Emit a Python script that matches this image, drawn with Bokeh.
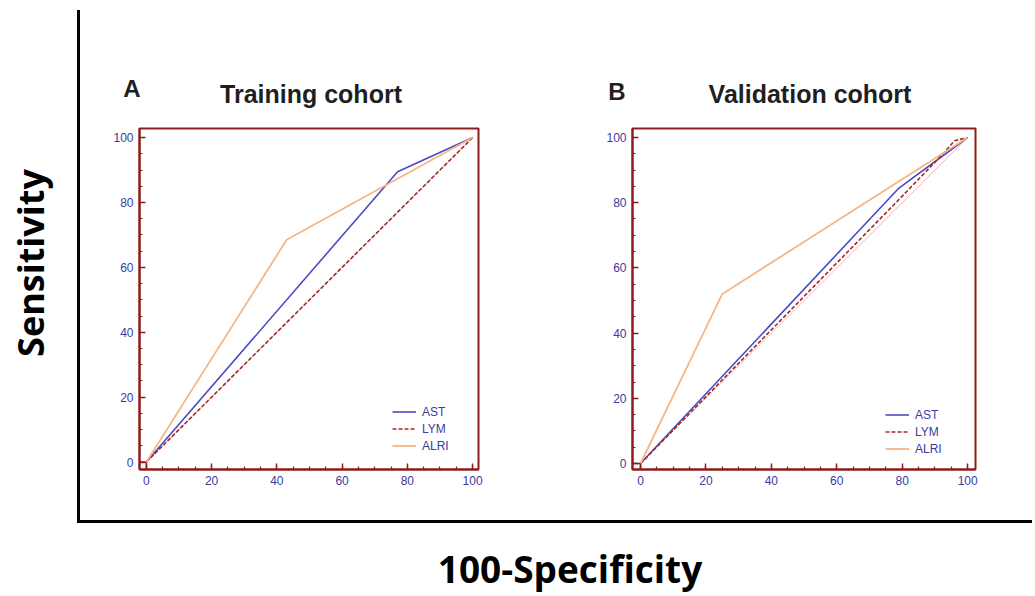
from bokeh.plotting import figure
from bokeh.layouts import row, column
from bokeh.models import Range1d, FixedTicker, Div
from bokeh.embed import file_html
from bokeh.resources import INLINE

# ---------------- data ----------------
tick_values = [0, 20, 40, 60, 80, 100]
minor_tick_values = list(range(0, 101, 5))
series_names = ["AST", "LYM", "ALRI"]
panel_titles = ["Training cohort", "Validation cohort"]
panel_letters = ["A", "B"]
x_axis_title = "100-Specificity"
y_axis_title = "Sensitivity"

train_ast_x = [0, 77, 100]
train_ast_y = [0, 89.5, 100]
train_lym_x = [0, 100]
train_lym_y = [0, 100]
train_alri_x = [0, 43, 100]
train_alri_y = [0, 68.5, 100]

valid_ast_x = [0, 79, 100]
valid_ast_y = [0, 84.5, 100]
valid_lym_x = [0, 60, 80, 92, 96, 100]
valid_lym_y = [0, 61.5, 82, 94.5, 99, 100]
valid_alri_x = [0, 25, 100]
valid_alri_y = [0, 52, 100]

diag_x = [0, 100]
diag_y = [0, 100]

# ---------------- styles ----------------
FRAME = "#8E1C1C"
TICKLBL = "#3A3AA0"
C_AST = "#4B4BC6"
C_LYM = "#A02A2A"
C_ALRI = "#F6B685"
C_DIAG = "#EBB8C0"


def make_panel(width, height, mbl, mbr, mbt, mbb, xr, yr, curves, legend_xy):
    p = figure(width=width, height=height, x_range=Range1d(*xr), y_range=Range1d(*yr),
               output_backend="svg", toolbar_location=None,
               min_border_left=mbl, min_border_right=mbr, min_border_top=mbt,
               min_border_bottom=mbb)
    p.grid.visible = False
    p.outline_line_color = FRAME
    p.outline_line_width = 2
    p.outline_line_alpha = 1
    p.background_fill_color = "white"
    p.border_fill_color = "white"

    for ax in (p.xaxis[0], p.yaxis[0]):
        ax.ticker = FixedTicker(ticks=tick_values, minor_ticks=minor_tick_values)
        ax.axis_line_color = FRAME
        ax.axis_line_width = 2
        ax.major_tick_in = 6
        ax.major_tick_out = 0
        ax.minor_tick_in = 3
        ax.minor_tick_out = 0
        ax.major_tick_line_color = FRAME
        ax.minor_tick_line_color = FRAME
        ax.major_tick_line_width = 1.5
        ax.minor_tick_line_width = 1.2
        ax.major_label_text_color = TICKLBL
        ax.major_label_text_font = "Liberation Sans"
        ax.major_label_text_font_size = "12px"
        ax.major_label_standoff = 6

    # reference diagonal
    p.line(diag_x, diag_y, line_color=C_DIAG, line_width=1)
    # origin box
    p.line([xr[0], 0, 0], [0, 0, yr[0]], line_color=FRAME, line_width=1.5)

    (ax_, ay_), (lx_, ly_), (rx_, ry_) = curves
    p.line(ax_, ay_, line_color=C_AST, line_width=1.6, legend_label=series_names[0])
    p.line(lx_, ly_, line_color=C_LYM, line_width=1.6, line_dash="4 2",
           legend_label=series_names[1])
    p.line(rx_, ry_, line_color=C_ALRI, line_width=1.8, legend_label=series_names[2])

    lg = p.legend[0]
    lg.location = legend_xy
    lg.background_fill_alpha = 0
    lg.border_line_color = None
    lg.label_text_color = TICKLBL
    lg.label_text_font = "Liberation Sans"
    lg.label_text_font_size = "12px"
    lg.glyph_width = 24
    lg.glyph_height = 17
    lg.label_height = 17
    lg.spacing = 0
    lg.padding = 4
    lg.margin = 0
    lg.label_standoff = 6
    return p


# row spans page y 110..520 (height 410); frames at y 128..469
figA = make_panel(475, 410, 59, 77, 18, 51, (-2.1, 101.8), (-2.3, 102.8),
                  ((train_ast_x, train_ast_y), (train_lym_x, train_lym_y),
                   (train_alri_x, train_alri_y)), (253, 15))
figB = make_panel(477, 410, 77, 57, 18, 51, (-2.45, 102.4), (-1.84, 102.76),
                  ((valid_ast_x, valid_ast_y), (valid_lym_x, valid_lym_y),
                   (valid_alri_x, valid_alri_y)), (253, 12))


def span(text, left, top, font, center=True, rotate=False, color="#1f1f1f"):
    tr = []
    if center:
        tr.append("translate(-50%,-50%)" if rotate else "translateX(-50%)")
    if rotate:
        tr.append("rotate(-90deg)")
    t = " ".join(tr) if tr else "none"
    return (f'<span style="position:absolute;left:{left}px;top:{top}px;transform:{t};'
            f'font:{font};white-space:nowrap;color:{color};">{text}</span>')


LINE = "#000000"
title_font = "bold 25px/1 'Liberation Sans', Arial, sans-serif"
letter_font = "bold 24px/1 'Liberation Sans', Arial, sans-serif"
big_font = "bold 37px/1 'Open Sans', sans-serif"

header_html = (
    '<div style="position:relative;width:1032px;height:110px;overflow:hidden;">'
    f'<div style="position:absolute;left:77px;top:10px;width:3px;height:100px;background:{LINE};"></div>'
    + span(panel_letters[0], 132, 77, letter_font)
    + span(panel_titles[0], 311, 82, title_font)
    + span(panel_letters[1], 617, 80, letter_font)
    + span(panel_titles[1], 810, 82, title_font)
    + '</div>'
)
header = Div(text=header_html, width=1032, height=110, margin=0)

left_html = (
    '<div style="position:relative;width:80px;height:410px;overflow:hidden;">'
    f'<div style="position:absolute;left:77px;top:0px;width:3px;height:410px;background:{LINE};"></div>'
    + span(y_axis_title, 31, 153, "bold 36px/1 'Open Sans', sans-serif", rotate=True, color="#000")
    + '</div>'
)
left = Div(text=left_html, width=80, height=410, margin=0)

bottom_html = (
    '<div style="position:relative;width:1032px;height:74px;overflow:hidden;">'
    f'<div style="position:absolute;left:77px;top:0px;width:955px;height:3px;background:{LINE};"></div>'
    + span(x_axis_title, 570, 30, big_font, color="#000")
    + '</div>'
)
bottom = Div(text=bottom_html, width=1032, height=74, margin=0)

layout = column(header, row(left, figA, figB), bottom)

open("out.html", "w").write(file_html(layout, INLINE))
